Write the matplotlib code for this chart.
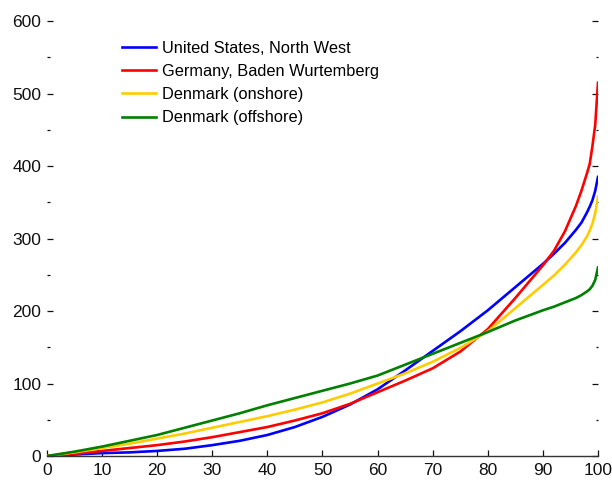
import matplotlib
matplotlib.use("Agg")
import matplotlib.pyplot as plt
from matplotlib.ticker import MultipleLocator

# Arial-like font (no narrow variant installed).
plt.rcParams["font.family"] = ["Liberation Sans", "DejaVu Sans"]

# Share of potential (%) on the x axis.
pct = [0, 5, 10, 15, 20, 25, 30, 35, 40, 45, 50, 55, 60, 65, 70, 75, 80,
       85, 90, 92, 94, 96, 97, 98, 98.5, 99, 99.5, 100]

# Cost curves.
us_north_west = [0, 2, 4, 5, 7, 10, 15, 21, 29, 40, 54, 71, 92, 118, 145,
                 172, 201, 233, 265, 279, 294, 312, 322, 336, 344, 353, 366, 385]
germany_bw = [0, 3, 7, 11, 15, 20, 26, 33, 40, 49, 59, 72, 88, 104, 121,
              144, 175, 218, 263, 283, 310, 345, 366, 390, 403, 428, 457, 515]
denmark_on = [0, 5, 11, 17, 24, 31, 39, 47, 55, 64, 74, 86, 100, 114, 130,
              149, 172, 204, 236, 249, 264, 281, 291, 303, 311, 321, 335, 358]
denmark_off = [0, 6, 13, 21, 29, 39, 49, 59, 70, 80, 90, 100, 111, 126, 141,
               156, 171, 187, 201, 206, 212, 218, 222, 227, 230, 235, 243, 260]

labels = ["United States, North West", "Germany, Baden Wurtemberg",
          "Denmark (onshore)", "Denmark (offshore)"]
colors = ["#0000ff", "#ff0000", "#ffcc00", "#008000"]
series = [us_north_west, germany_bw, denmark_on, denmark_off]

fig = plt.figure(figsize=(6.12, 4.8), dpi=100)
ax = fig.add_axes([0.0768, 0.05, 0.9003, 0.906])

for vals, lab, col in zip(series, labels, colors):
    ax.plot(pct, vals, color=col, lw=1.9, label=lab, solid_joinstyle="round")

ax.set_xlim(0, 100)
ax.set_ylim(0, 600)
ax.xaxis.set_major_locator(MultipleLocator(10))
ax.yaxis.set_major_locator(MultipleLocator(100))
ax.yaxis.set_minor_locator(MultipleLocator(50))

# Only the bottom spine is drawn.
for side in ["left", "right", "top"]:
    ax.spines[side].set_visible(False)
ax.spines["bottom"].set_color("#333333")
ax.spines["bottom"].set_linewidth(1.0)

ax.tick_params(axis="y", which="both", direction="in", left=True, right=True,
               labelleft=True, labelright=False, colors="#111111",
               labelsize=12.5, pad=4)
ax.tick_params(axis="y", which="major", length=4.5, width=0.9)
ax.tick_params(axis="y", which="minor", length=1.8, width=0.9)
ax.tick_params(axis="x", which="major", direction="in", length=4, width=0.9,
               colors="#111111", labelsize=12.5, pad=5)

ax.legend(loc="upper left", bbox_to_anchor=(0.136, 0.955), frameon=False,
          fontsize=11.8, handlelength=2.1, handletextpad=0.35,
          labelspacing=0.5, borderpad=0, borderaxespad=0)

fig.savefig("out.png", dpi=100)
plt.close(fig)
